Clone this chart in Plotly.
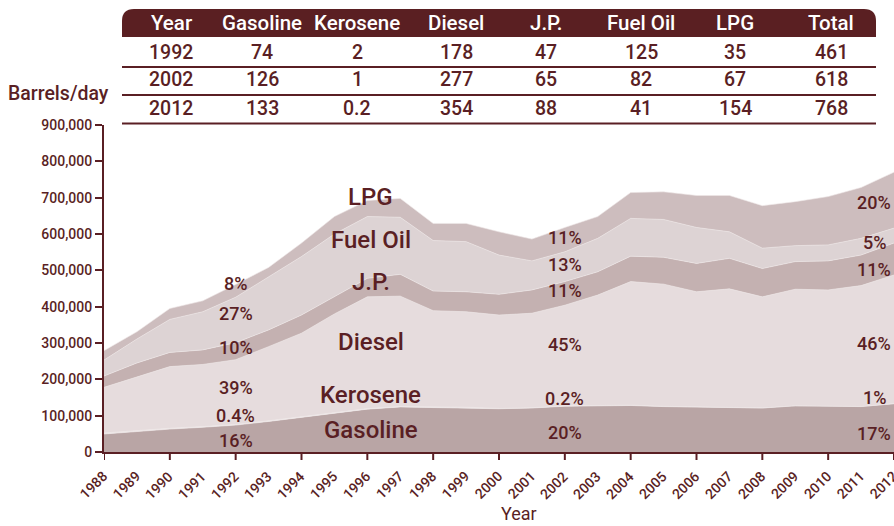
import plotly.graph_objects as go

years = list(range(1988, 2013))

# thousand barrels/day (table values used for 1992/2002/2012)
gasoline = [49.5, 57, 63, 68, 74, 84, 95, 108, 118, 124, 123, 122, 119, 121, 126,
            127, 128, 125, 124, 124, 121, 127, 126, 125, 133]
kerosene = [3, 3, 2.5, 2, 2, 2, 2, 2, 1.5, 1.5, 1.5, 1.5, 1, 1, 1,
            1, 1, 0.8, 0.7, 0.6, 0.5, 0.4, 0.3, 0.3, 0.2]
diesel = [125.5, 147, 169.5, 171, 178, 204, 230, 270, 307.5, 303.5, 264.5, 262.5, 257, 260, 277,
          304, 340, 336.2, 316.3, 324.4, 305.5, 320.6, 319.7, 332.7, 354]
jp = [31, 38, 39, 40, 47, 46, 50, 47, 51, 60, 54, 55, 57, 64, 65,
      64, 70, 74, 78, 84, 78, 76, 80, 84, 88]
fuel_oil = [44, 66, 91, 105, 125, 146, 161, 173, 170, 157, 139, 138, 108, 80, 82,
            92, 104, 104, 99, 73, 56, 44, 44, 46, 41]
lpg = [26, 20, 30, 30, 35, 26, 37, 48, 44, 52, 47, 50, 64, 60, 67,
       60, 71, 76, 88, 100, 117, 121, 133, 140, 154]

series_names = ["Gasoline", "Kerosene", "Diesel", "J.P.", "Fuel Oil", "LPG"]
series_values = [gasoline, kerosene, diesel, jp, fuel_oil, lpg]
series_colors = ["#b9a5a5", "#ebe3e4", "#e6dcdd", "#c4b1b1", "#ddd3d4", "#cdbdbe"]

table_header = ["Year", "Gasoline", "Kerosene", "Diesel", "J.P.", "Fuel Oil", "LPG", "Total"]
table_rows = [
    ["1992", "74", "2", "178", "47", "125", "35", "461"],
    ["2002", "126", "1", "277", "65", "82", "67", "618"],
    ["2012", "133", "0.2", "354", "88", "41", "154", "768"],
]

pct_1992 = ["16%", "0.4%", "39%", "10%", "27%", "8%"]
pct_2002 = ["20%", "0.2%", "45%", "11%", "13%", "11%"]
pct_2012 = ["17%", "1%", "46%", "11%", "5%", "20%"]

MAROON = "#5a1f24"
FONT = "Roboto"

fig = go.Figure()
for name, vals, col in zip(series_names, series_values, series_colors):
    fig.add_trace(go.Scatter(
        x=years, y=[v * 1000 for v in vals], name=name, stackgroup="one",
        mode="lines", line=dict(width=0.6, color="#efe8e8"), fillcolor=col,
        hoverinfo="x+y+name"))

# geometry helpers (pixel -> paper)
L, W, T, B = 104, 790, 125, 452
H = B - T
def px(x):
    return (x - L) / W
def py(y):
    return (B - y) / H
def pv(y):
    return (B - y) / H * 900000

shapes = []
x0, x1, yt, yb, r = 122, 876, 9, 37, 12
path = (f"M {px(x0)},{py(yb)} L {px(x0)},{py(yt + r)} "
        f"Q {px(x0)},{py(yt)} {px(x0 + r)},{py(yt)} "
        f"L {px(x1 - r)},{py(yt)} Q {px(x1)},{py(yt)} {px(x1)},{py(yt + r)} "
        f"L {px(x1)},{py(yb)} Z")
shapes.append(dict(type="path", xref="paper", yref="paper", path=path,
                   fillcolor="#5a1f22", line=dict(width=0)))
for ly in [67, 95, 123.5]:
    shapes.append(dict(type="line", xref="paper", yref="paper",
                       x0=px(x0), x1=px(x1), y0=py(ly), y1=py(ly),
                       line=dict(color=MAROON, width=2)))
# x-axis tick marks every two years
for yr in years[::2]:
    shapes.append(dict(type="line", xref="x", yref="paper", x0=yr, x1=yr,
                       y0=0, y1=-8 / H, line=dict(color=MAROON, width=2)))

col_x = [171, 262, 357, 456, 546, 641, 735, 831]
row_y = [52, 80, 108]

ann = []
for cx, h in zip(col_x, table_header):
    ann.append(dict(xref="paper", yref="paper", x=px(cx), y=py(23), text=h,
                    showarrow=False, xanchor="center", yanchor="middle",
                    font=dict(family=FONT, size=20.5, color="white", weight=500)))
for ry, row in zip(row_y, table_rows):
    for cx, v in zip(col_x, row):
        ann.append(dict(xref="paper", yref="paper", x=px(cx), y=py(ry), text=v,
                        showarrow=False, xanchor="center", yanchor="middle",
                        font=dict(family=FONT, size=19.5, color=MAROON, weight=500)))

ann.append(dict(xref="paper", yref="paper", x=px(111), y=py(93), text="Barrels/day",
                showarrow=False, xanchor="right", yanchor="middle",
                font=dict(family=FONT, size=19.5, color=MAROON, weight=500)))

name_y = [430, 395, 342, 282, 240, 197]
for n, yy in zip(series_names, name_y):
    ann.append(dict(xref="x", yref="y", x=1996.1, y=pv(yy), text=n, showarrow=False,
                    xanchor="center", yanchor="middle",
                    font=dict(family=FONT, size=24, color=MAROON, weight=500)))

y92 = [440, 415, 387, 347, 313, 283]
y02 = [432, 398, 344, 290, 264, 237]
y12 = [433, 397, 343, 269, 242, 202]
for labels, ys, xx in [(pct_1992, y92, 1992.0), (pct_2002, y02, 2002.0), (pct_2012, y12, 2011.4)]:
    for t, yy in zip(labels, ys):
        ann.append(dict(xref="x", yref="y", x=xx, y=pv(yy), text=t, showarrow=False,
                        xanchor="center", yanchor="middle",
                        font=dict(family=FONT, size=18, color=MAROON, weight=500)))

# rotated year labels under the x axis
for yr in years:
    ann.append(dict(xref="x", yref="paper", x=yr, y=py(467), text=str(yr),
                    showarrow=False, textangle=-45, xanchor="right", yanchor="top",
                    xshift=8, borderpad=0,
                    font=dict(family=FONT, size=14, color=MAROON, weight=500)))
ann.append(dict(xref="paper", yref="paper", x=px(519), y=py(513), text="Year",
                showarrow=False, xanchor="center", yanchor="middle",
                font=dict(family=FONT, size=18, color=MAROON)))

fig.update_layout(
    width=894, height=526, autosize=False,
    margin=dict(l=L, r=894 - L - W, t=T, b=526 - B, autoexpand=False),
    paper_bgcolor="white", plot_bgcolor="white",
    showlegend=False,
    shapes=shapes, annotations=ann,
    xaxis=dict(range=[1988, 2012], tickvals=years, showticklabels=False, ticks="",
               showline=True, linecolor=MAROON, linewidth=2, showgrid=False,
               zeroline=False, automargin=False),
    yaxis=dict(range=[0, 900000], dtick=100000, tickformat=",", ticks="outside",
               ticklen=7, tickwidth=2, tickcolor=MAROON, showline=True,
               linecolor=MAROON, linewidth=2, showgrid=False, zeroline=False,
               automargin=False,
               tickfont=dict(family=FONT, size=14, color=MAROON, weight=500)),
)

fig.write_html("out.html", config={"responsive": False, "displayModeBar": False},
               post_script="document.body.style.margin='0px';")
